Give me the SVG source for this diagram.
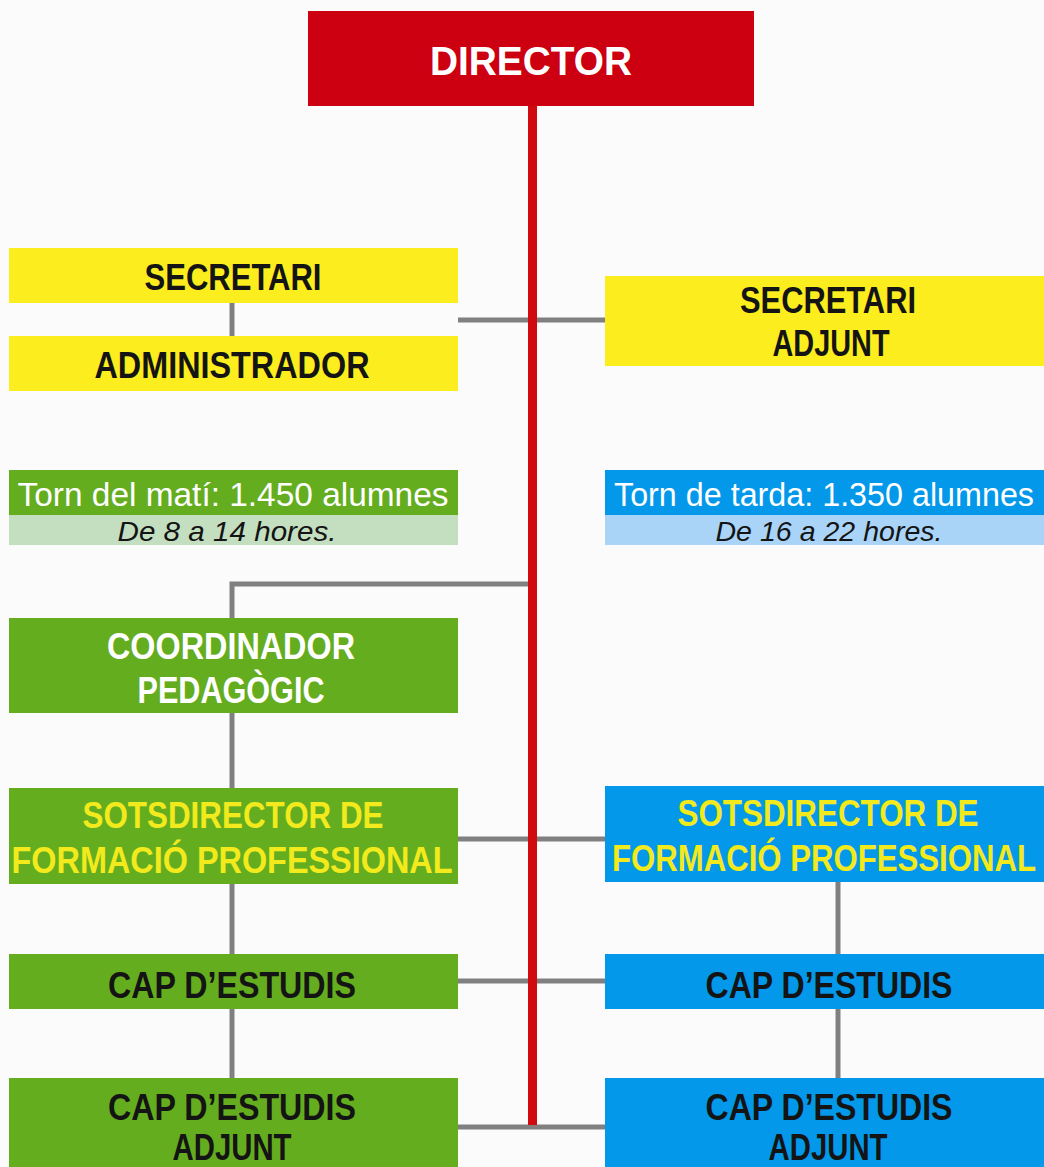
<svg xmlns="http://www.w3.org/2000/svg" width="1044" height="1167" viewBox="0 0 1044 1167">
<style>
.t{font-family:"Liberation Sans",Arial,sans-serif;text-anchor:middle}
.b{font-weight:bold;font-size:37px}
.dk{fill:#141414}
.wh{fill:#ffffff}
.yl{fill:#f2ea1c}
.lnk{stroke:#808080;stroke-width:5;fill:none}
.yel{fill:#fbed1e}
.grn{fill:#64ad1f}
.blu{fill:#0398e9}
</style>
<rect width="1044" height="1167" fill="#fbfbfb"/>
<g id="connectors">
<path class="lnk" d="M232 303V336"/>
<path class="lnk" d="M458 320H605"/>
<path class="lnk" d="M532 584H232V618"/>
<path class="lnk" d="M232 713V788"/>
<path class="lnk" d="M458 839H605"/>
<path class="lnk" d="M838 882V954"/>
<path class="lnk" d="M232 884V954"/>
<path class="lnk" d="M458 981H605"/>
<path class="lnk" d="M232 1009V1078"/>
<path class="lnk" d="M838 1009V1078"/>
<path class="lnk" d="M458 1127H605"/>
<path d="M532.5 106V1125" stroke="#d10a10" stroke-width="9" fill="none"/>
</g>
<g id="director">
<rect x="308" y="11" width="446" height="95" fill="#cc0010"/>
<text class="t wh" x="531" y="75" font-size="40" font-weight="bold" textLength="202" lengthAdjust="spacingAndGlyphs">DIRECTOR</text>
</g>
<g id="secretari">
<rect class="yel" x="9" y="248" width="449" height="55"/>
<text class="t b dk" x="233" y="290" textLength="177" lengthAdjust="spacingAndGlyphs">SECRETARI</text>
</g>
<g id="administrador">
<rect class="yel" x="9" y="336" width="449" height="55"/>
<text class="t b dk" x="232" y="378" textLength="275" lengthAdjust="spacingAndGlyphs">ADMINISTRADOR</text>
</g>
<g id="secretari-adjunt">
<rect class="yel" x="605" y="276" width="439" height="90"/>
<text class="t b dk" x="828" y="313" textLength="176" lengthAdjust="spacingAndGlyphs">SECRETARI</text>
<text class="t b dk" x="831" y="356" textLength="117" lengthAdjust="spacingAndGlyphs">ADJUNT</text>
</g>
<g id="torn-mati">
<rect class="grn" x="9" y="470" width="449" height="45"/>
<rect x="9" y="515" width="449" height="30" fill="#c3dfc0"/>
<text class="t wh" x="233" y="506" font-size="34" textLength="431" lengthAdjust="spacingAndGlyphs">Torn del matí: 1.450 alumnes</text>
<text class="t dk" x="227" y="541" font-size="28" font-style="italic" textLength="219" lengthAdjust="spacingAndGlyphs">De 8 a 14 hores.</text>
</g>
<g id="torn-tarda">
<rect class="blu" x="605" y="470" width="439" height="45"/>
<rect x="605" y="515" width="439" height="30" fill="#a9d4f8"/>
<text class="t wh" x="824" y="506" font-size="34" textLength="420" lengthAdjust="spacingAndGlyphs">Torn de tarda: 1.350 alumnes</text>
<text class="t dk" x="829" y="541" font-size="28" font-style="italic" textLength="227" lengthAdjust="spacingAndGlyphs">De 16 a 22 hores.</text>
</g>
<g id="coordinador">
<rect class="grn" x="9" y="618" width="449" height="95"/>
<text class="t b wh" x="231" y="659" textLength="248" lengthAdjust="spacingAndGlyphs">COORDINADOR</text>
<text class="t b wh" x="231" y="703" textLength="187" lengthAdjust="spacingAndGlyphs">PEDAGÒGIC</text>
</g>
<g id="sotsdirector-mati">
<rect class="grn" x="9" y="788" width="449" height="96"/>
<text class="t b yl" x="233" y="828" textLength="301" lengthAdjust="spacingAndGlyphs">SOTSDIRECTOR DE</text>
<text class="t b yl" x="232" y="873" textLength="441" lengthAdjust="spacingAndGlyphs">FORMACIÓ PROFESSIONAL</text>
</g>
<g id="sotsdirector-tarda">
<rect class="blu" x="605" y="786" width="439" height="96"/>
<text class="t b yl" x="828" y="826" textLength="301" lengthAdjust="spacingAndGlyphs">SOTSDIRECTOR DE</text>
<text class="t b yl" x="824" y="871" textLength="424" lengthAdjust="spacingAndGlyphs">FORMACIÓ PROFESSIONAL</text>
</g>
<g id="cap-estudis-mati">
<rect class="grn" x="9" y="954" width="449" height="55"/>
<text class="t b dk" x="232" y="998" textLength="248" lengthAdjust="spacingAndGlyphs">CAP D’ESTUDIS</text>
</g>
<g id="cap-estudis-tarda">
<rect class="blu" x="605" y="954" width="439" height="55"/>
<text class="t b dk" x="829" y="998" textLength="247" lengthAdjust="spacingAndGlyphs">CAP D’ESTUDIS</text>
</g>
<g id="cap-estudis-adjunt-mati">
<rect class="grn" x="9" y="1078" width="449" height="89"/>
<text class="t b dk" x="232" y="1120" textLength="248" lengthAdjust="spacingAndGlyphs">CAP D’ESTUDIS</text>
<text class="t b dk" x="232" y="1160" textLength="119" lengthAdjust="spacingAndGlyphs">ADJUNT</text>
</g>
<g id="cap-estudis-adjunt-tarda">
<rect class="blu" x="605" y="1078" width="439" height="89"/>
<text class="t b dk" x="829" y="1120" textLength="247" lengthAdjust="spacingAndGlyphs">CAP D’ESTUDIS</text>
<text class="t b dk" x="828" y="1160" textLength="119" lengthAdjust="spacingAndGlyphs">ADJUNT</text>
</g>
</svg>
